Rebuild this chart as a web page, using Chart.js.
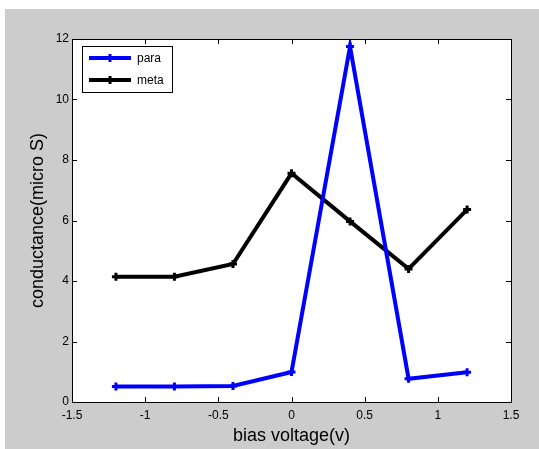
<!DOCTYPE html>
<html>
<head>
<meta charset="utf-8">
<script src="https://cdn.jsdelivr.net/npm/chart.js@4/dist/chart.umd.min.js"></script>
<style>
html,body{margin:0;padding:0;background:#fff;}
canvas{display:block;}
</style>
</head>
<body>
<canvas id="c" width="539" height="449"></canvas>
<script>
const biasVoltage = [-1.2, -0.8, -0.4, 0, 0.4, 0.8, 1.2];
const paraValues = [0.51, 0.51, 0.53, 0.99, 11.75, 0.77, 0.98];
const metaValues = [4.14, 4.14, 4.56, 7.56, 5.97, 4.40, 6.36];
const seriesNames = ['para', 'meta'];
const seriesColors = ['#0000ff', '#000000'];
const xTicks = [-1.5, -1, -0.5, 0, 0.5, 1, 1.5];
const yTicks = [0, 2, 4, 6, 8, 10, 12];

const FONT = 'Arial, "Liberation Sans", sans-serif';

const pts = (xs, ys) => xs.map((x, i) => ({x: x, y: ys[i]}));

const figurePlugin = {
  id: 'figure',
  beforeDraw(chart) {
    const ctx = chart.ctx;
    ctx.save();
    ctx.fillStyle = '#ffffff';
    ctx.fillRect(0, 0, chart.width, chart.height);
    ctx.fillStyle = '#cccccc';
    ctx.fillRect(5, 9, chart.width - 5, chart.height - 9);
    const a = chart.chartArea;
    ctx.fillStyle = '#ffffff';
    ctx.fillRect(a.left, a.top, a.right - a.left, a.bottom - a.top);
    ctx.restore();
  },
  afterDraw(chart) {
    const ctx = chart.ctx;
    const a = chart.chartArea;
    const xs = chart.scales.x, ys = chart.scales.y;
    ctx.save();
    ctx.strokeStyle = '#000000';
    ctx.lineWidth = 1;
    const tl = 5;
    ctx.beginPath();
    xTicks.forEach(v => {
      const px = Math.round(xs.getPixelForValue(v)) + 0.5;
      ctx.moveTo(px, a.bottom); ctx.lineTo(px, a.bottom - tl);
      ctx.moveTo(px, a.top); ctx.lineTo(px, a.top + tl);
    });
    yTicks.forEach(v => {
      const py = Math.round(ys.getPixelForValue(v)) + 0.5;
      ctx.moveTo(a.left, py); ctx.lineTo(a.left + tl, py);
      ctx.moveTo(a.right, py); ctx.lineTo(a.right - tl, py);
    });
    ctx.stroke();
    ctx.strokeRect(Math.round(a.left) + 0.5, Math.round(a.top) + 0.5,
      Math.round(a.right - a.left), Math.round(a.bottom - a.top));
    // legend
    const bx = 82, by = 46, bw = 90, bh = 46;
    ctx.fillStyle = '#ffffff';
    ctx.fillRect(bx, by, bw, bh);
    ctx.strokeStyle = '#000000';
    ctx.strokeRect(bx + 0.5, by + 0.5, bw, bh);
    chart.data.datasets.forEach((ds, i) => {
      const y = 58 + i * 22;
      ctx.strokeStyle = ds.borderColor;
      ctx.lineWidth = 4;
      ctx.beginPath();
      ctx.moveTo(89, y); ctx.lineTo(131, y);
      ctx.stroke();
      ctx.lineWidth = 3;
      ctx.beginPath();
      ctx.moveTo(110, y - 4); ctx.lineTo(110, y + 4);
      ctx.stroke();
      ctx.fillStyle = '#000000';
      ctx.font = '12px ' + FONT;
      ctx.textAlign = 'left';
      ctx.textBaseline = 'middle';
      ctx.fillText(ds.label, 137, y + 1);
    });
    ctx.restore();
  }
};

new Chart(document.getElementById('c'), {
  type: 'line',
  data: {
    datasets: [
      {label: seriesNames[0], data: pts(biasVoltage, paraValues), borderColor: seriesColors[0],
       backgroundColor: seriesColors[0], borderWidth: 4, pointStyle: 'cross', pointRadius: 4,
       pointBorderWidth: 3, tension: 0, fill: false},
      {label: seriesNames[1], data: pts(biasVoltage, metaValues), borderColor: seriesColors[1],
       backgroundColor: seriesColors[1], borderWidth: 4, pointStyle: 'cross', pointRadius: 4,
       pointBorderWidth: 3, tension: 0, fill: false}
    ]
  },
  options: {
    responsive: false,
    animation: false,
    layout: {padding: {left: 0, right: 28, top: 39, bottom: 0}},
    plugins: {legend: {display: false}, tooltip: {enabled: false}},
    scales: {
      x: {
        type: 'linear', min: -1.5, max: 1.5,
        afterBuildTicks: s => { s.ticks = xTicks.map(v => ({value: v})); },
        afterFit: s => { s.height = 47; },
        grid: {display: false, drawTicks: false},
        border: {display: false},
        ticks: {color: '#000', font: {family: FONT, size: 12}, padding: 6, maxRotation: 0,
                callback: v => String(v)},
        title: {display: true, text: 'bias voltage(v)', color: '#000',
                font: {family: FONT, size: 18}, padding: {top: 0, bottom: 2}}
      },
      y: {
        type: 'linear', min: 0, max: 12,
        afterBuildTicks: s => { s.ticks = yTicks.map(v => ({value: v})); },
        afterFit: s => { s.width = 72; },
        grid: {display: false, drawTicks: false},
        border: {display: false},
        ticks: {color: '#000', font: {family: FONT, size: 12}, padding: 3,
                callback: v => String(v)},
        title: {display: true, text: 'conductance(micro S)', color: '#000',
                font: {family: FONT, size: 18}, padding: {top: 27, bottom: 0}}
      }
    }
  },
  plugins: [figurePlugin]
});
</script>
</body>
</html>
